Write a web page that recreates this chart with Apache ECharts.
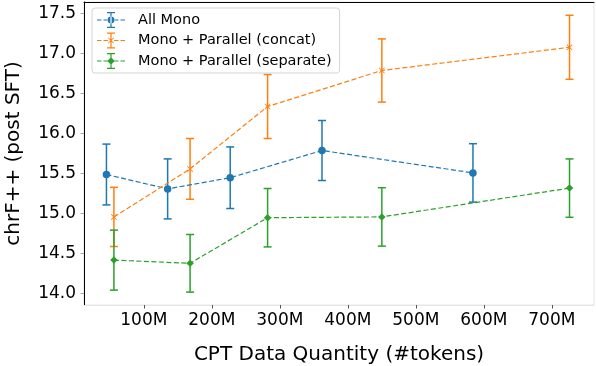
<!DOCTYPE html>
<html>
<head>
<meta charset="utf-8">
<script src="https://cdn.jsdelivr.net/npm/echarts@6/dist/echarts.min.js"></script>
<style>html,body{margin:0;padding:0;background:#fff}#c{width:596px;height:366px}</style>
</head>
<body>
<div id="c"></div>
<script>
// ---- data (x in millions of tokens) ----
const seriesNames = ['All Mono', 'Mono + Parallel (concat)', 'Mono + Parallel (separate)'];
const monoX = [45, 135, 227, 362, 584];
const monoY = [15.49, 15.31, 15.45, 15.79, 15.51];
const monoErr = [0.38, 0.375, 0.385, 0.375, 0.365];
const concatX = [56, 168, 282, 450, 726];
const concatY = [14.96, 15.56, 16.34, 16.79, 17.08];
const concatErr = [0.37, 0.38, 0.40, 0.395, 0.40];
const sepX = [56, 168, 282, 450, 726];
const sepY = [14.42, 14.38, 14.95, 14.96, 15.32];
const sepErr = [0.375, 0.36, 0.365, 0.365, 0.365];
const xTicks = [100, 200, 300, 400, 500, 600, 700];
const yTicks = [14.0, 14.5, 15.0, 15.5, 16.0, 16.5, 17.0, 17.5];

const colors = ['#1f77b4', '#ff7f0e', '#2ca02c'];
const FONT = 'DejaVu Sans';

function pts(xs, ys) { return xs.map((x, i) => [x * 1e6, ys[i]]); }
function errs(xs, ys, es) { return xs.map((x, i) => [x * 1e6, ys[i] - es[i], ys[i] + es[i]]); }

const xSym = 'path://M0,1L1,0L5,4L9,0L10,1L6,5L10,9L9,10L5,6L1,10L0,9L4,5Z';
function legendIcon(marker) {
  const dashes = 'M0,7.4h4.5v1.2h-4.5z M6.5,7.4h4.5v1.2h-4.5z M17,7.4h4.5v1.2h-4.5z M23.5,7.4h4.5v1.2h-4.5z';
  const bar = ' M13.4,0h1.2v16h-1.2z M10,0h8v1.2h-8z M10,14.8h8v1.2h-8z';
  let m;
  if (marker === 'circle') m = ' M10.6,8a3.4,3.4 0 1,0 6.8,0a3.4,3.4 0 1,0 -6.8,0z';
  else if (marker === 'diamond') m = ' M14,4.3L17.7,8L14,11.7L10.3,8z';
  else m = ' M11,5.6L11.6,5L14,7.4L16.4,5L17,5.6L14.6,8L17,10.4L16.4,11L14,8.6L11.6,11L11,10.4L13.4,8z';
  return 'path://' + dashes + bar + m;
}

function errSeries(data, color) {
  return {
    type: 'custom',
    data: data,
    z: 3,
    silent: true,
    encode: { x: 0, y: [1, 2] },
    renderItem: function (params, api) {
      const x = api.value(0);
      const lo = api.coord([x, api.value(1)]);
      const hi = api.coord([x, api.value(2)]);
      const w = 4;
      const st = { stroke: color, lineWidth: 1.5 };
      return {
        type: 'group',
        children: [
          { type: 'line', shape: { x1: lo[0], y1: lo[1], x2: hi[0], y2: hi[1] }, style: st },
          { type: 'line', shape: { x1: lo[0] - w, y1: lo[1], x2: lo[0] + w, y2: lo[1] }, style: st },
          { type: 'line', shape: { x1: hi[0] - w, y1: hi[1], x2: hi[0] + w, y2: hi[1] }, style: st }
        ]
      };
    }
  };
}

function lineSeries(name, data, color, symbol, size) {
  return {
    name: name,
    type: 'line',
    data: data,
    z: 4,
    symbol: symbol,
    symbolSize: size,
    showAllSymbol: true,
    lineStyle: { color: color, width: 1.2, type: [5, 2.5] },
    itemStyle: { color: color },
    emphasis: { disabled: true },
    animation: false
  };
}

const chart = echarts.init(document.getElementById('c'), null, { renderer: 'canvas' });
chart.setOption({
  animation: false,
  color: colors,
  textStyle: { fontFamily: FONT },
  grid: { left: 84, right: 2, top: 2, bottom: 61, show: true, borderColor: '#e6e6e6', borderWidth: 1,
          containLabel: false, outerBoundsMode: 'none' },
  legend: {
    orient: 'vertical',
    left: 92,
    top: 8,
    padding: [4, 8, 4, 5],
    itemWidth: 28,
    itemHeight: 16,
    itemGap: 4.5,
    borderColor: '#d5d5d5',
    borderWidth: 1,
    borderRadius: 3,
    backgroundColor: 'rgba(255,255,255,0.85)',
    textStyle: { fontFamily: FONT, fontSize: 14.5, color: '#000', padding: [0, 0, 0, 8] },
    data: [
      { name: seriesNames[0], icon: legendIcon('circle'), itemStyle: { color: colors[0] } },
      { name: seriesNames[1], icon: legendIcon('x'), itemStyle: { color: colors[1] } },
      { name: seriesNames[2], icon: legendIcon('diamond'), itemStyle: { color: colors[2] } }
    ]
  },
  xAxis: [{
    type: 'value',
    min: 12e6,
    max: 762e6,
    name: 'CPT Data Quantity (#tokens)',
    nameLocation: 'middle',
    nameGap: 40,
    nameTextStyle: { fontFamily: FONT, fontSize: 20, color: '#000' },
    axisLine: { show: true, lineStyle: { color: '#e6e6e6', width: 1 } },
    axisTick: { show: true, length: 3.5, lineStyle: { color: '#555' }, customValues: xTicks.map(v => v * 1e6) },
    axisLabel: { fontFamily: FONT, fontSize: 17, color: '#000', margin: 7,
      customValues: xTicks.map(v => v * 1e6),
      formatter: v => Math.round(v / 1e6) + 'M' },
    splitLine: { show: false }
  }, {
    type: 'value',
    position: 'top',
    min: 12e6,
    max: 762e6,
    axisLine: { show: true, onZero: false, lineStyle: { color: '#000', width: 1 } },
    axisTick: { show: false },
    axisLabel: { show: false },
    splitLine: { show: false }
  }],
  yAxis: {
    type: 'value',
    min: 13.859,
    max: 17.646,
    name: 'chrF++ (post SFT)',
    nameLocation: 'middle',
    nameGap: 60,
    nameTextStyle: { fontFamily: FONT, fontSize: 20, color: '#000' },
    axisLine: { show: true, onZero: false, lineStyle: { color: '#000', width: 1 } },
    axisTick: { show: true, length: 3.5, lineStyle: { color: '#aaa' }, customValues: yTicks },
    axisLabel: { fontFamily: FONT, fontSize: 17, color: '#000', margin: 8,
      customValues: yTicks, formatter: v => v.toFixed(1) },
    splitLine: { show: false }
  },
  series: [
    errSeries(errs(monoX, monoY, monoErr), colors[0]),
    lineSeries(seriesNames[0], pts(monoX, monoY), colors[0], 'circle', 7.5),
    errSeries(errs(concatX, concatY, concatErr), colors[1]),
    lineSeries(seriesNames[1], pts(concatX, concatY), colors[1], xSym, 6),
    errSeries(errs(sepX, sepY, sepErr), colors[2]),
    lineSeries(seriesNames[2], pts(sepX, sepY), colors[2], 'diamond', [7.5, 7.5])
  ]
});
</script>
</body>
</html>
